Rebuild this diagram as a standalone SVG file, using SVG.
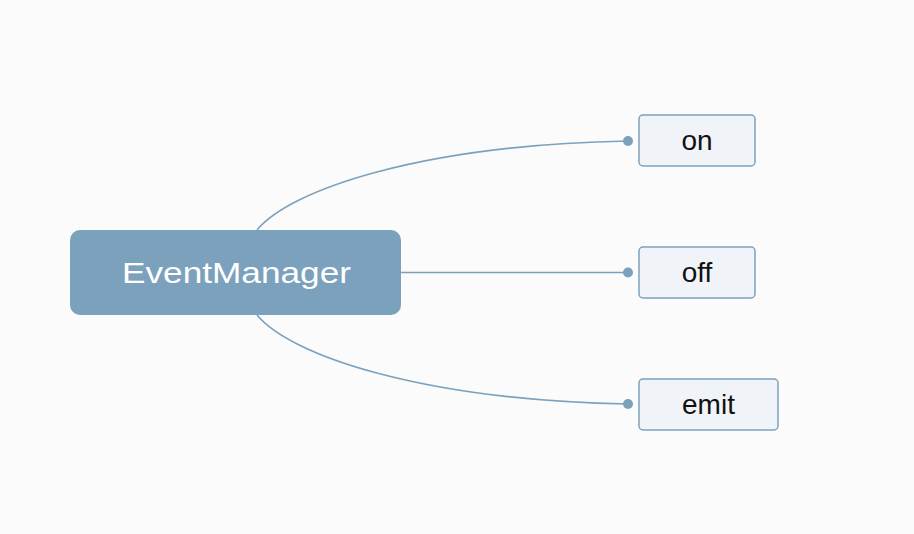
<svg xmlns="http://www.w3.org/2000/svg" width="914" height="534" viewBox="0 0 914 534">
<style>
.bg{fill:#fbfbfb}
.link{fill:none;stroke:#7ba1bd;stroke-width:1.6}
.dot{fill:#7ba1bd}
.root{fill:#7ba1bd}
.rootText{font-family:"Liberation Sans",Arial,sans-serif;font-size:30px;fill:#ffffff;text-anchor:middle}
.leaf{fill:#f0f4f8;stroke:#7ba1bd;stroke-width:1.5}
.leafText{font-family:"Liberation Sans",Arial,sans-serif;font-size:28px;fill:#111111;text-anchor:middle}
</style>
<rect class="bg" x="0" y="0" width="914" height="534"/>
<g id="connectors">
<path class="link" d="M257,230 C290,190 420,145 628,141"/>
<path class="link" d="M401,272.5 L628,272.5"/>
<path class="link" d="M257,315 C290,355 420,400 628,404"/>
<circle class="dot" cx="628" cy="141" r="5"/>
<circle class="dot" cx="628" cy="272.5" r="5"/>
<circle class="dot" cx="628" cy="404" r="5"/>
</g>
<g id="EventManager">
<rect class="root" x="70" y="230" width="331" height="85" rx="10"/>
<text class="rootText" x="236.5" y="283" textLength="229" lengthAdjust="spacingAndGlyphs">EventManager</text>
</g>
<g id="on">
<rect class="leaf" x="639" y="115" width="116" height="51" rx="4"/>
<text class="leafText" x="697" y="149.5">on</text>
</g>
<g id="off">
<rect class="leaf" x="639" y="247" width="116" height="51" rx="4"/>
<text class="leafText" x="697" y="281.5">off</text>
</g>
<g id="emit">
<rect class="leaf" x="639" y="379" width="139" height="51" rx="4"/>
<text class="leafText" x="708.5" y="413.5">emit</text>
</g>
</svg>
